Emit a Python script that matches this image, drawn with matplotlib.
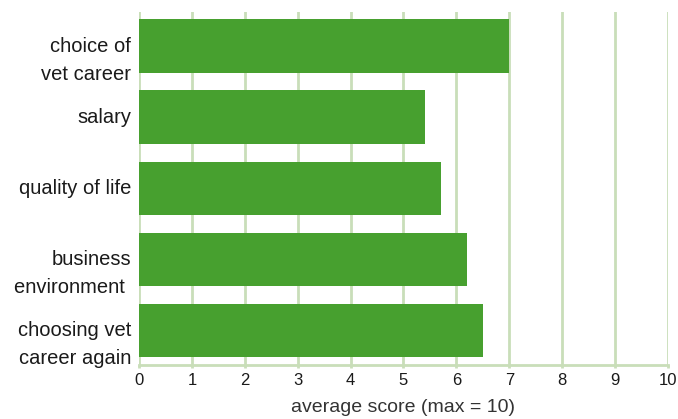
import matplotlib
matplotlib.use("Agg")
import matplotlib.pyplot as plt
from matplotlib.transforms import ScaledTranslation, blended_transform_factory

categories = ["choice of\nvet career", "salary", "quality of life",
              "business\nenvironment ", "choosing vet\ncareer again"]
scores = [7.0, 5.4, 5.7, 6.2, 6.5]
xticks = [0, 1, 2, 3, 4, 5, 6, 7, 8, 9, 10]
xlabel = "average score (max = 10)"

plt.rcParams['font.family'] = ['Liberation Sans', 'DejaVu Sans']

fig = plt.figure(figsize=(6.78, 4.19), dpi=100)
ax = fig.add_axes([139/678, 1 - 365/419, (668-139)/678, (365-12)/419])

grid_c = "#c9deb9"
bar_c = "#47a02f"
ypos = list(range(len(categories)))
ax.barh(ypos, scores, height=0.75, color=bar_c, zorder=3)
ax.set_ylim(4.49, -0.48)
ax.set_xlim(0, 10)
ax.set_xticks(xticks)
ax.set_xticklabels([str(t) for t in xticks], fontsize=12, color="#1a1a1a")
ax.set_yticks(ypos)
ax.set_yticklabels([])

base = blended_transform_factory(ax.transAxes, ax.transData)
for y, lab in zip(ypos, categories):
    dy = -14/100 if "\n" in lab else 0
    tr = base + ScaledTranslation(-8/100, dy, fig.dpi_scale_trans)
    ax.text(0, y, lab, transform=tr, ha="right", va="center",
            fontsize=14.5, color="#1a1a1a", linespacing=1.6, multialignment="right")

for x in xticks:
    ax.axvline(x, color=grid_c, lw=2, zorder=1)
for s in ["top", "right", "left"]:
    ax.spines[s].set_visible(False)
ax.spines["bottom"].set_color(grid_c)
ax.spines["bottom"].set_linewidth(2)
ax.tick_params(axis="x", length=2, width=2, color=grid_c, pad=4)
ax.tick_params(axis="y", length=0, pad=6)
ax.set_xlabel(xlabel, fontsize=14, color="#333333", labelpad=8)

fig.savefig("out.png", dpi=100)
